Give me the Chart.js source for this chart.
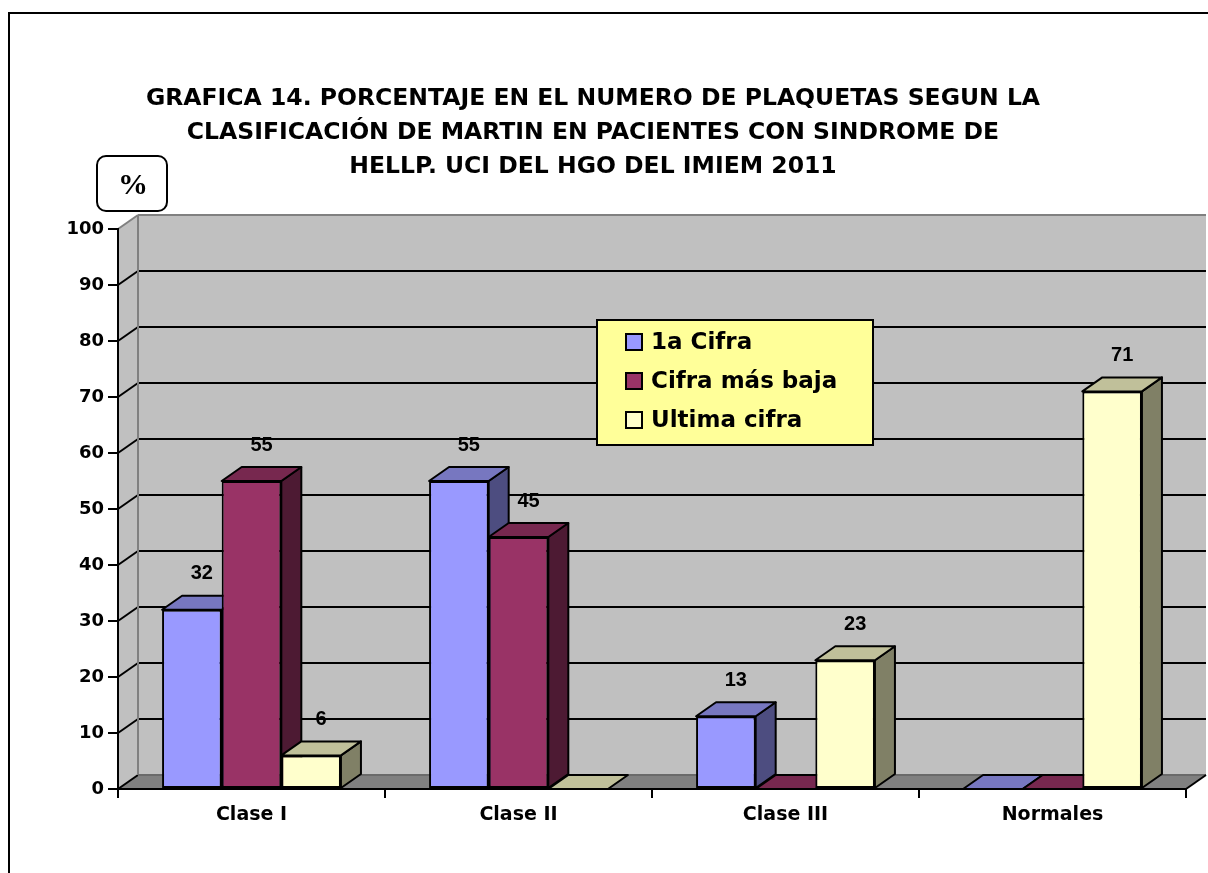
<!DOCTYPE html>
<html lang="es">
<head>
<meta charset="utf-8">
<title>Grafica 14 - Plaquetas</title>
<script src="https://cdn.jsdelivr.net/npm/chart.js@4.4.0/dist/chart.umd.min.js"></script>
<style>
    html, body { margin: 0; padding: 0; background: #ffffff; }
    #chartBox { width: 1208px; height: 873px; }
</style>
</head>
<body>
<div id="chartBox"><canvas id="chartPlaquetas" width="1208" height="873"></canvas></div>
<script>
// =========================================
// DATA
// =========================================

const categorias = ['Clase I', 'Clase II', 'Clase III', 'Normales'];
const dataPrimera = [32, 55, 13, 0];   // 1a Cifra
const dataMasBaja = [55, 45, 0, 0];    // Cifra más baja
const dataUltima = [6, 0, 23, 71];     // Ultima cifra

const tituloLineas = [
    'GRAFICA 14. PORCENTAJE EN EL NUMERO DE PLAQUETAS SEGUN LA',
    'CLASIFICACIÓN DE MARTIN EN PACIENTES CON SINDROME DE',
    'HELLP. UCI DEL HGO DEL IMIEM 2011'
];

// Colores (frente, lado, tapa)
const colorFrente = ['#9999FF', '#993366', '#FFFFCC'];
const colorLado = ['#4D4D80', '#4D1A33', '#808066'];
const colorTapa = ['#7777C0', '#77284F', '#C0C09A'];

// Profundidad 3D
const PROF_X = 20;
const PROF_Y = 14;

const fontEje = 'DejaVu Sans';

// =========================================
// HELPERS
// =========================================

function poly(ctx, pts, fill, stroke) {
    ctx.beginPath();
    ctx.moveTo(pts[0][0], pts[0][1]);
    for (let i = 1; i < pts.length; i++) ctx.lineTo(pts[i][0], pts[i][1]);
    ctx.closePath();
    if (fill) { ctx.fillStyle = fill; ctx.fill(); }
    if (stroke) { ctx.strokeStyle = stroke; ctx.stroke(); }
}

function line(ctx, x1, y1, x2, y2, color) {
    ctx.beginPath();
    ctx.moveTo(x1, y1);
    ctx.lineTo(x2, y2);
    ctx.strokeStyle = color;
    ctx.stroke();
}

// =========================================
// PLUGINS
// =========================================

// Marco, caja del "%" y paredes del grafico 3D
const paredesPlugin = {
    id: 'paredes',
    beforeDraw(chart) {
        const { ctx, chartArea: { left, right, top, bottom }, scales: { y } } = chart;
        ctx.save();

        // marco exterior
        ctx.lineWidth = 2;
        ctx.strokeStyle = '#000';
        ctx.strokeRect(9, 13, chart.width + 40, chart.height + 40);

        // caja del %
        ctx.beginPath();
        ctx.roundRect(97, 156, 70, 55, 9);
        ctx.fillStyle = '#fff';
        ctx.fill();
        ctx.stroke();
        ctx.fillStyle = '#000';
        ctx.font = 'bold 30px "Liberation Serif"';
        ctx.textAlign = 'center';
        ctx.textBaseline = 'middle';
        ctx.fillText('%', 133, 186);

        // pared del fondo
        ctx.fillStyle = '#C0C0C0';
        ctx.fillRect(left + PROF_X, top - PROF_Y, right - left, bottom - top);
        // pared lateral
        poly(ctx, [[left, top], [left + PROF_X, top - PROF_Y], [left + PROF_X, bottom - PROF_Y], [left, bottom]], '#C0C0C0');
        // piso
        poly(ctx, [[left, bottom], [right, bottom], [right + PROF_X, bottom - PROF_Y], [left + PROF_X, bottom - PROF_Y]], '#808080');

        // lineas de division
        ctx.lineWidth = 2;
        y.ticks.forEach(t => {
            const py = y.getPixelForValue(t.value);
            if (t.value > y.min && t.value < y.max) {
                line(ctx, left + PROF_X, py - PROF_Y, right + PROF_X, py - PROF_Y, '#000');
            }
            if (t.value < y.max) {
                line(ctx, left, py, left + PROF_X, py - PROF_Y, '#000');
            }
        });

        // bordes de las paredes
        ctx.lineWidth = 2;
        line(ctx, left, top, left + PROF_X, top - PROF_Y, '#808080');
        line(ctx, left + PROF_X, top - PROF_Y, right + PROF_X, top - PROF_Y, '#808080');
        line(ctx, left + PROF_X, top - PROF_Y, left + PROF_X, bottom - PROF_Y, '#808080');
        line(ctx, left + PROF_X, bottom - PROF_Y, right + PROF_X, bottom - PROF_Y, '#6a6a6a');
        line(ctx, right, bottom, right + PROF_X, bottom - PROF_Y, '#000');

        ctx.restore();
    }
};

// Caras laterales y tapas de las barras
const barras3dPlugin = {
    id: 'barras3d',
    beforeDatasetsDraw(chart) {
        const { ctx } = chart;
        ctx.save();
        ctx.lineWidth = 2;
        ctx.lineJoin = 'round';
        categorias.forEach((_, i) => {
            chart.data.datasets.forEach((ds, d) => {
                const bar = chart.getDatasetMeta(d).data[i];
                const { x, y, base, width } = bar.getProps(['x', 'y', 'base', 'width'], true);
                const l = x - width / 2;
                const r = x + width / 2;
                if (y < base) {
                    poly(ctx, [[r, y], [r + PROF_X, y - PROF_Y], [r + PROF_X, base - PROF_Y], [r, base]], colorLado[d], '#000');
                }
                poly(ctx, [[l, y], [r, y], [r + PROF_X, y - PROF_Y], [l + PROF_X, y - PROF_Y]], colorTapa[d], '#000');
            });
        });
        ctx.restore();
    }
};

// Etiquetas de datos y leyenda
const etiquetasPlugin = {
    id: 'etiquetas',
    afterDatasetsDraw(chart) {
        const { ctx } = chart;
        ctx.save();
        ctx.fillStyle = '#000';
        ctx.font = 'bold 20px "Liberation Sans"';
        ctx.textAlign = 'center';
        ctx.textBaseline = 'middle';
        chart.data.datasets.forEach((ds, d) => {
            chart.getDatasetMeta(d).data.forEach((bar, i) => {
                const v = ds.data[i];
                if (!v) return;
                const { x, y } = bar.getProps(['x', 'y'], true);
                ctx.fillText(String(v), x + PROF_X / 2, y - PROF_Y - 22);
            });
        });

        // leyenda
        ctx.fillStyle = '#FFFF99';
        ctx.fillRect(597, 320, 276, 125);
        ctx.lineWidth = 2;
        ctx.strokeStyle = '#000';
        ctx.strokeRect(597, 320, 276, 125);
        ctx.font = 'bold 23px "' + fontEje + '"';
        ctx.textAlign = 'left';
        chart.data.datasets.forEach((ds, d) => {
            const cy = 342 + d * 39;
            ctx.fillStyle = ds.backgroundColor;
            ctx.fillRect(626, cy - 8, 16, 16);
            ctx.strokeRect(626, cy - 8, 16, 16);
            ctx.fillStyle = '#000';
            ctx.fillText(ds.label, 651, cy + 1);
        });
        ctx.restore();
    }
};

// =========================================
// CHART
// =========================================

const ctxPlaquetas = document.getElementById('chartPlaquetas').getContext('2d');
const chartPlaquetas = new Chart(ctxPlaquetas, {
    type: 'bar',
    data: {
        labels: categorias,
        datasets: [
            { label: '1a Cifra', data: dataPrimera, backgroundColor: colorFrente[0] },
            { label: 'Cifra más baja', data: dataMasBaja, backgroundColor: colorFrente[1] },
            { label: 'Ultima cifra', data: dataUltima, backgroundColor: colorFrente[2] }
        ]
    },
    options: {
        responsive: false,
        animation: false,
        layout: { padding: { left: 0, right: 22, top: 0, bottom: 0 } },
        datasets: {
            bar: {
                categoryPercentage: 0.67,
                barPercentage: 1.0,
                borderColor: '#000',
                borderWidth: 2,
                borderSkipped: false
            }
        },
        plugins: {
            legend: { display: false },
            tooltip: { enabled: false },
            title: {
                display: true,
                text: tituloLineas,
                color: '#000',
                font: { family: fontEje, weight: 'bold', size: 23.5, lineHeight: 34 / 23.5 },
                padding: { top: 82, bottom: 45 }
            }
        },
        scales: {
            x: {
                ticks: {
                    color: '#000',
                    font: { family: fontEje, weight: 'bold', size: 19 },
                    padding: 6
                },
                grid: { drawOnChartArea: false, color: '#000', lineWidth: 2, tickLength: 9, offset: true },
                border: { color: '#000', width: 2 },
                afterFit: (scale) => { scale.height = 84; }
            },
            y: {
                min: 0,
                max: 100,
                ticks: {
                    stepSize: 10,
                    color: '#000',
                    font: { family: fontEje, weight: 'bold', size: 18 },
                    padding: 4
                },
                grid: { drawOnChartArea: false, color: '#000', lineWidth: 2, tickLength: 10 },
                border: { color: '#000', width: 2 },
                afterFit: (scale) => { scale.width = 118; }
            }
        }
    },
    plugins: [paredesPlugin, barras3dPlugin, etiquetasPlugin]
});
</script>
</body>
</html>
